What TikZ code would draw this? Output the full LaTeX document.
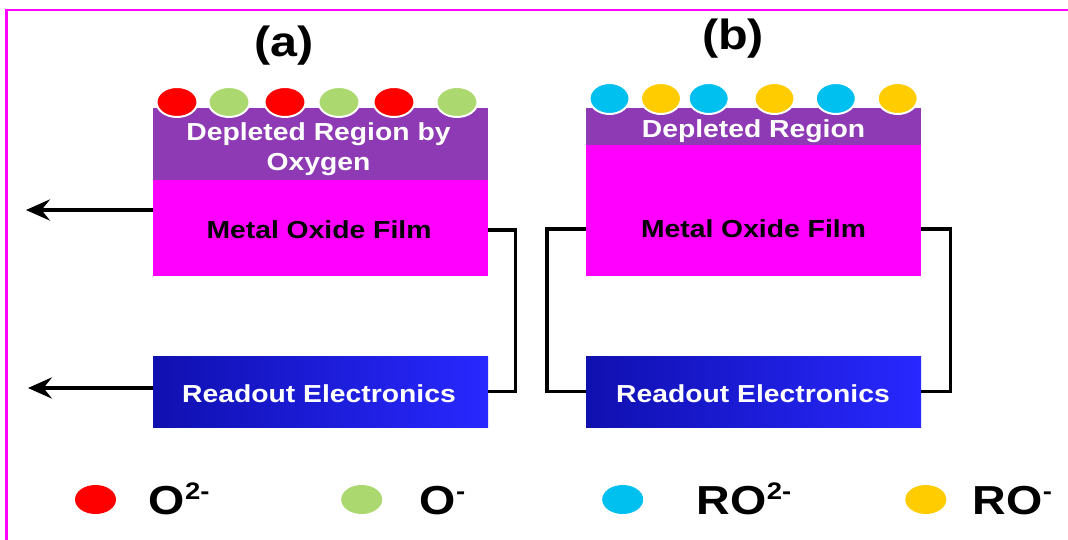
\documentclass[tikz,border=0pt]{standalone}
\usepackage{fontspec}
\setmainfont{Liberation Sans}[FakeStretch=1.15]
\usepackage{tikz}
\usetikzlibrary{arrows.meta,positioning}
\definecolor{deplpurple}{RGB}{142,58,180}
\definecolor{filmmagenta}{RGB}{255,0,255}
\definecolor{ionred}{RGB}{255,0,0}
\definecolor{iongreen}{RGB}{172,216,112}
\definecolor{ioncyan}{RGB}{0,192,240}
\definecolor{ionyellow}{RGB}{255,204,0}
\definecolor{readleft}{RGB}{16,16,176}
\definecolor{readright}{RGB}{40,40,255}
\newcommand{\ionsup}[1]{\raisebox{10.5pt}{\fontsize{17}{18}\selectfont #1}}
\tikzset{
    boxtext/.style={font=\fontsize{17.5}{21.3}\selectfont\bfseries},
    layer/.style={inner sep=0pt, outer sep=0pt, minimum width=8.375cm},
    depl/.style={layer, fill=deplpurple},
    film/.style={layer, fill=filmmagenta},
    readout/.style={layer, left color=readleft, right color=readright,
        text=white, boxtext, minimum height=1.775cm},
    % ions sitting on the film
    ion/.style={draw=white, line width=1.4pt},
    wire/.style={line width=2.2pt, black},
    outarrow/.style={
        line width=2.7pt,
        black,
        -{Stealth[length=17pt, width=15pt, inset=6pt]}
    },
    panel/.style={font=\fontsize{30}{36}\selectfont\bfseries},
    legend/.style={font=\fontsize{28.8}{34}\selectfont\bfseries, anchor=base west}
}

\begin{document}
\begin{tikzpicture}[x=0.025cm, y=-0.025cm]
    \useasboundingbox (0,0) rectangle (1068,540);
    \draw[filmmagenta, line width=2pt] (6.5,540) |- (1068,10);

    % (a) oxygen
    \node[panel] (labA) at (284,46) {(a)};
    \node[depl, anchor=north west, minimum height=1.8cm] (deplA) at (153,108) {};
    \node[film, anchor=north west, minimum height=2.4cm] (filmA) at (deplA.south west) {};
    \node[readout, anchor=north west] (readA) at (153,356) {};
    \node[boxtext, text=white, align=center] (deplAtext) at (318.5,149)
        {Depleted Region by\\Oxygen};
    \node[boxtext] (filmAtext) at (319,230) {Metal Oxide Film};
    \node[boxtext, text=white] (readAtext) at (319,394) {Readout Electronics};
    \foreach \cx/\col in {177/ionred,229/iongreen,285/ionred,339/iongreen,394/ionred,457/iongreen}
        \filldraw[ion, fill=\col] (\cx,102) ellipse [x radius=20.5, y radius=15];
    \draw[wire] (filmAtext -| filmA.east) -- ++(27,0) |- (readA.east);
    \coordinate (outFilm) at (26,210);
    \coordinate (outRead) at (28,388);
    \draw[outarrow] (filmA.west |- outFilm) -- (outFilm);
    \draw[outarrow] (readA.west |- outRead) -- (outRead);

    % (b) reducing gas
    \node[panel] (labB) at (733,39) {(b)};
    \node[depl, anchor=north west, minimum height=0.925cm] (deplB) at (586,108) {};
    \node[film, anchor=north west, minimum height=3.275cm] (filmB) at (deplB.south west) {};
    \node[readout, anchor=north west] (readB) at (586,356) {};
    \node[boxtext, text=white] (deplBtext) at (753.5,131) {Depleted Region};
    \node[boxtext] (filmBtext) at (753.5,229) {Metal Oxide Film};
    \node[boxtext, text=white] (readBtext) at (753,394) {Readout Electronics};
    \foreach \cx/\col in {609.5/ioncyan,661/ionyellow,708.7/ioncyan,774.5/ionyellow,835.8/ioncyan,897.7/ionyellow}
        \filldraw[ion, fill=\col] (\cx,98.5) ellipse [x radius=20, y radius=15.5];
    \draw[wire] (filmBtext -| filmB.west) -- ++(-39,0) |- (readB.west);
    \draw[wire] (filmBtext -| filmB.east) -- ++(29,0) |- (readB.east);

    % legend
    \fill[ionred] (95.5,499.5) ellipse [x radius=20.5, y radius=14.5];
    \node[legend] (legO2) at (144,514) {O\ionsup{2-}};
    \fill[iongreen] (361.7,499.5) ellipse [x radius=20.5, y radius=14.5];
    \node[legend] (legO1) at (415,514) {O\ionsup{-}};
    \fill[ioncyan] (622.7,499.5) ellipse [x radius=20.5, y radius=14.5];
    \node[legend] (legRO2) at (692,514) {RO\ionsup{2-}};
    \fill[ionyellow] (925.8,499.5) ellipse [x radius=20.5, y radius=14.5];
    \node[legend] (legRO1) at (968,514) {RO\ionsup{-}};
\end{tikzpicture}
\end{document}
